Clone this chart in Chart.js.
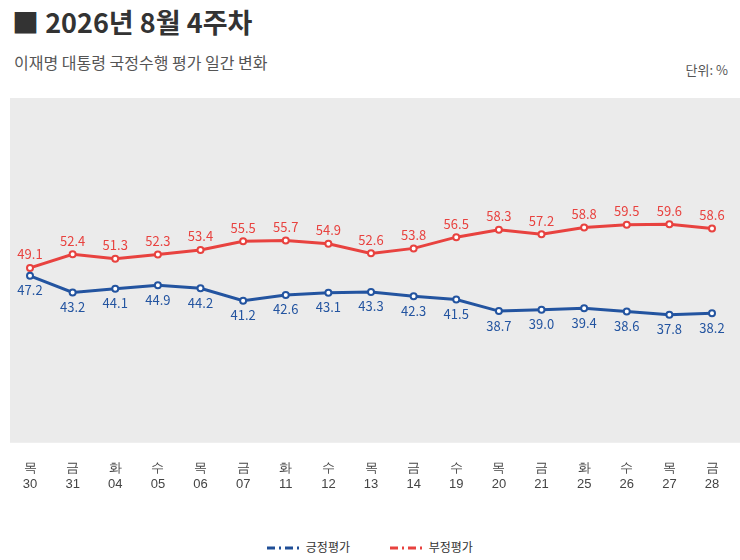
<!DOCTYPE html>
<html><head><meta charset="utf-8">
<script src="https://cdn.jsdelivr.net/npm/chart.js@4"></script>
<style>
body{margin:0;width:740px;height:560px;background:#fff;font-family:"Noto Sans CJK KR","Noto Sans",sans-serif;position:relative;overflow:hidden}
#t{position:absolute;left:12px;top:2px;font-size:27px;font-weight:bold;color:#333}
#s{position:absolute;left:14px;top:50px;font-size:16px;color:#555}
#u{position:absolute;right:12px;top:60px;font-size:13px;color:#555}
#wrap{position:absolute;left:0;top:90px;width:740px;height:412px}
#lg{position:absolute;top:538px;left:0;width:740px;text-align:center;font-size:12px;color:#333}
#lg span{margin:0 20px}
</style></head><body>
<div id="t">■ 2026년 8월 4주차</div>
<div id="s">이재명 대통령 국정수행 평가 일간 변화</div>
<div id="u">단위: %</div>
<div id="wrap"><canvas id="c"></canvas></div>
<div id="lg"><span><svg width="36" height="8"><line x1="0" y1="4" x2="36" y2="4" stroke="#1f4e96" stroke-width="3" stroke-dasharray="8,4,2,4"/></svg> 긍정평가</span><span><svg width="36" height="8"><line x1="0" y1="4" x2="36" y2="4" stroke="#e8423f" stroke-width="3" stroke-dasharray="8,4,2,4"/></svg> 부정평가</span></div>
<script>
var days = ['목','금','화','수','목','금','화','수','목','금','수','목','금','화','수','목','금'];
var dates = ['30','31','04','05','06','07','11','12','13','14','19','20','21','25','26','27','28'];
var positive = [47.2,43.2,44.1,44.9,44.2,41.2,42.6,43.1,43.3,42.3,41.5,38.7,39.0,39.4,38.6,37.8,38.2];
var negative = [49.1,52.4,51.3,52.3,53.4,55.5,55.7,54.9,52.6,53.8,56.5,58.3,57.2,58.8,59.5,59.6,58.6];
var labels = days.map(function(d,i){return [d,dates[i]];});

var bgPlugin = {
  id:'bg',
  beforeDraw:function(chart){
    var a = chart.chartArea, ctx = chart.ctx;
    ctx.save(); ctx.fillStyle='#ebebeb';
    ctx.fillRect(10,a.top,chart.width-10,a.bottom-a.top);
    ctx.restore();
  },
  afterDatasetsDraw:function(chart){
    var ctx = chart.ctx;
    ctx.save(); ctx.font='13px "Noto Sans CJK KR", sans-serif'; ctx.textAlign='center';
    chart.data.datasets.forEach(function(ds,di){
      chart.getDatasetMeta(di).data.forEach(function(p,i){
        ctx.fillStyle = ds.borderColor;
        if(di==0){ctx.textBaseline='top'; ctx.fillText(ds.data[i].toFixed(1),p.x,p.y+8);}
        else {ctx.textBaseline='bottom'; ctx.fillText(ds.data[i].toFixed(1),p.x,p.y-7);}
      });
    });
    ctx.restore();
  }
};

new Chart(document.getElementById('c'),{
  type:'line',
  data:{labels:labels,datasets:[
    {label:'긍정평가',data:positive,borderColor:'#2354a0',backgroundColor:'#fff',borderWidth:3,pointRadius:3,pointBorderWidth:2,pointBackgroundColor:'#fff',tension:0},
    {label:'부정평가',data:negative,borderColor:'#e8423f',backgroundColor:'#fff',borderWidth:3,pointRadius:3,pointBorderWidth:2,pointBackgroundColor:'#fff',tension:0}
  ]},
  options:{
    responsive:true,maintainAspectRatio:false,animation:false,
    layout:{padding:{left:30,right:28,top:8,bottom:0}},
    plugins:{legend:{display:false},tooltip:{enabled:false}},
    scales:{
      x:{offset:false,grid:{display:false},border:{display:false},
        ticks:{color:'#444',font:{size:13},padding:10,maxRotation:0,autoSkip:false}},
      y:{display:false,min:7,max:90}
    }
  },
  plugins:[bgPlugin]
});
</script>
</body></html>
